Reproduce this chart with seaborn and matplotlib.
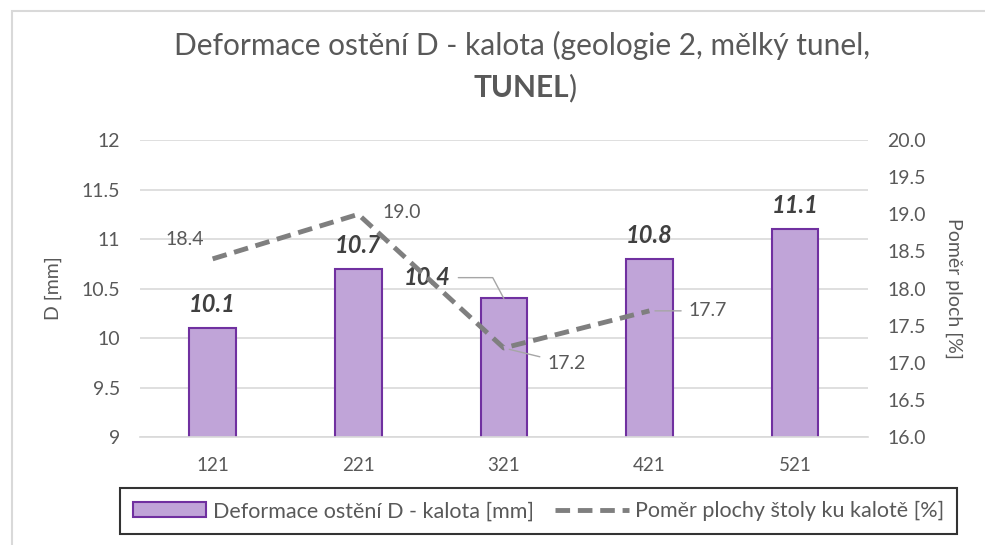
import numpy as np
import pandas as pd
import matplotlib
matplotlib.use("Agg")
import matplotlib.pyplot as plt
import seaborn as sns
from matplotlib.patches import Rectangle

# data
categories = ["121", "221", "321", "421", "521"]
deformation = [10.1, 10.7, 10.4, 10.8, 11.1]          # D [mm], left axis
ratio = [18.4, 19.0, 17.2, 17.7]                      # Poměr ploch [%], right axis
left_ticks = [9, 9.5, 10, 10.5, 11, 11.5, 12]
right_ticks = [16.0, 16.5, 17.0, 17.5, 18.0, 18.5, 19.0, 19.5, 20.0]

sns.set_style("white")
plt.rcParams["font.family"] = ["Lato", "DejaVu Sans"]

TXT = "#595959"
GRID = "#d9d9d9"
BAR = "#c0a4d8"
EDGE = "#7030a0"
LINE = "#7f7f7f"
LEAD = "#a6a6a6"

fig = plt.figure(figsize=(9.85, 5.45), dpi=100)
ax = fig.add_axes([0.142, 0.198, 0.739, 0.545])

df = pd.DataFrame({"cat": categories, "D": deformation})
sns.barplot(data=df, x="cat", y="D", ax=ax, color=BAR, edgecolor=EDGE,
            linewidth=1.5, width=0.32, saturation=1, zorder=2,
            label="Deformace ostění D - kalota [mm]")
ax.set_ylim(9, 12)
ax.set_yticks(left_ticks)
ax.set_yticklabels([f"{t:g}" for t in left_ticks])
ax.set_xlim(-0.5, len(categories) - 0.5)
ax.set_xlabel("")
ax.set_ylabel("D [mm]", fontsize=14, color=TXT, labelpad=14)
ax.yaxis.grid(True, color=GRID, linewidth=1.2, zorder=0)
ax.set_axisbelow(True)
for s in ["top", "left", "right"]:
    ax.spines[s].set_visible(False)
ax.spines["bottom"].set_color(GRID)
ax.spines["bottom"].set_linewidth(1.2)
ax.tick_params(axis="y", length=0, labelsize=14, colors=TXT, pad=14)
ax.tick_params(axis="x", length=0, labelsize=13.5, colors=TXT, pad=14)

# bar labels
for i, v in enumerate(deformation):
    if i == 2:
        ax.annotate(f"{v}", xy=(i, v), xytext=(-55, 15), textcoords="offset points",
                    ha="center", va="center", fontsize=17, fontweight="bold",
                    fontstyle="italic", color="#404040",
                    arrowprops=dict(arrowstyle="-", color=LEAD, lw=1,
                                    connectionstyle="angle,angleA=0,angleB=118,rad=0",
                                    shrinkA=3, shrinkB=0))
    else:
        ax.annotate(f"{v}", xy=(i, v), xytext=(0, 17), textcoords="offset points",
                    ha="center", va="center", fontsize=17, fontweight="bold",
                    fontstyle="italic", color="#404040")

ax2 = ax.twinx()
sns.lineplot(x=np.arange(len(ratio)), y=ratio, ax=ax2, color=LINE, linewidth=3.5,
             label="Poměr plochy štoly ku kalotě [%]", legend=False)
ax2.lines[0].set_dashes((3, 1.6))
ax2.set_ylim(16, 20)
ax2.set_yticks(right_ticks)
ax2.set_yticklabels([f"{t:.1f}" for t in right_ticks])
ax2.set_ylabel("Poměr ploch [%]", fontsize=14, color=TXT, rotation=270, labelpad=26)
for s in ax2.spines.values():
    s.set_visible(False)
ax2.tick_params(axis="both", length=0, labelsize=14, colors=TXT, pad=14)

line_offsets = [(-20, 14), (31, 1), (45, -11), (42, 0)]
leaders = [False, False, True, True]
for i, v in enumerate(ratio):
    dx, dy = line_offsets[i]
    kw = {}
    if leaders[i]:
        kw["arrowprops"] = dict(arrowstyle="-", color=LEAD, lw=1, shrinkA=3, shrinkB=4)
    ax2.annotate(f"{v:.1f}", xy=(i, v), xytext=(dx, dy), textcoords="offset points",
                 ha="center", va="center", fontsize=14, color=TXT, **kw)

fig.text(0.53, 0.917, "Deformace ostění D - kalota (geologie 2, mělký tunel,",
         ha="center", va="center", fontsize=21.5, color=TXT)
t_bold = fig.text(0.5, 0.838, "TUNEL", ha="left", va="center", fontsize=21.5,
                  color=TXT, fontweight="bold")
t_par = fig.text(0.5, 0.838, ")", ha="left", va="center", fontsize=21.5, color=TXT)
r = fig.canvas.get_renderer()
wb = t_bold.get_window_extent(r).width / fig.bbox.width
wp = t_par.get_window_extent(r).width / fig.bbox.width
x0 = 0.533 - (wb + wp) / 2
t_bold.set_x(x0)
t_par.set_x(x0 + wb)

h1, l1 = ax.get_legend_handles_labels()
h2, l2 = ax2.get_legend_handles_labels()
if ax.get_legend() is not None:
    ax.get_legend().remove()
leg = fig.legend(h1 + h2, l1 + l2, loc="center", bbox_to_anchor=(0.547, 0.062),
                 ncol=2, frameon=True, fancybox=False, fontsize=15.5,
                 handlelength=3.4, handletextpad=0.3, columnspacing=1.0,
                 borderpad=0.6, borderaxespad=0)
leg.get_frame().set_edgecolor("black")
leg.get_frame().set_linewidth(1.5)
for t in leg.get_texts():
    t.set_color(TXT)

# chart area border
fig.patches.append(Rectangle((0.012, -0.02), 1.0, 1.0, transform=fig.transFigure,
                             fill=False, edgecolor="#d9d9d9", linewidth=1.5))

fig.savefig("out.png", dpi=100)
